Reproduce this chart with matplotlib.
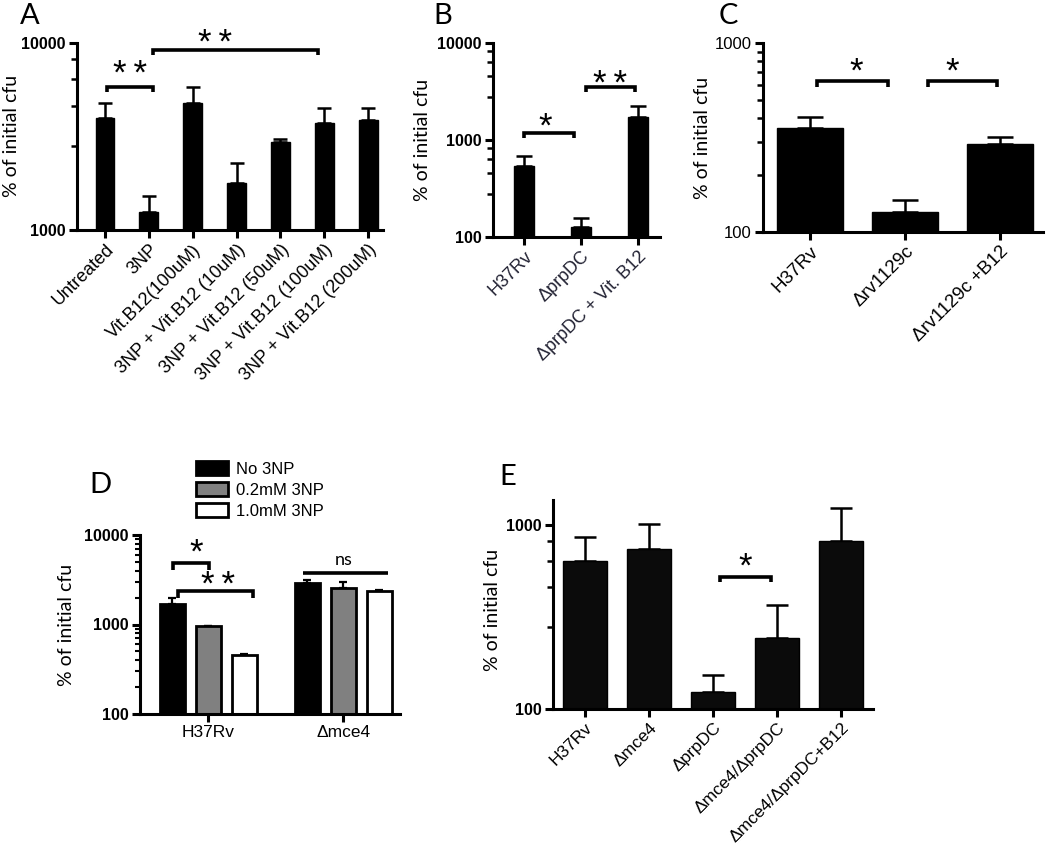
import matplotlib
matplotlib.use('Agg')
import matplotlib.pyplot as plt
import matplotlib.transforms as mtrans
import numpy as np
from matplotlib.patches import Patch
from matplotlib.ticker import FixedLocator, NullFormatter, LogLocator

plt.rcParams['font.family'] = ['Liberation Sans', 'DejaVu Sans']

# ---------------- data ----------------
a_labels = ['Untreated', '3NP', 'Vit.B12(100uM)', '3NP + Vit.B12 (10uM)',
            '3NP + Vit.B12 (50uM)', '3NP + Vit.B12 (100uM)', '3NP + Vit.B12 (200uM)']
a_means = [3970, 1250, 4780, 1780, 2950, 3730, 3880]
a_err = [810, 270, 1040, 500, 118, 760, 610]

b_labels = ['H37Rv', '\u0394prpDC', '\u0394prpDC + Vit. B12']
b_means = [540, 127, 1730]
b_err = [145, 30, 510]

c_labels = ['H37Rv', '\u0394rv1129c', '\u0394rv1129c +B12']
c_means = [355, 128, 292]
c_err = [51, 20, 25]

d_groups = ['H37Rv', '\u0394mce4']
d_series = ['No 3NP', '0.2mM 3NP', '1.0mM 3NP']
d_no3np = [1680, 2930]
d_02mm = [950, 2590]
d_10mm = [452, 2340]
d_no3np_err = [290, 230]
d_02mm_err = [20, 420]
d_10mm_err = [20, 60]

e_labels = ['H37Rv', '\u0394mce4', '\u0394prpDC', '\u0394mce4/\u0394prpDC', '\u0394mce4/\u0394prpDC+B12']
e_means = [637, 741, 124, 243, 818]
e_err = [224, 271, 29, 124, 419]

# ---------------- layout helpers ----------------
W, H = 1050, 849
fig = plt.figure(figsize=(W / 100, H / 100), dpi=100)

CAL = ['Lato', 'DejaVu Sans']
BOX = {}


def make_ax(l, r, t, b):
    ax = fig.add_axes([l / W, 1 - b / H, (r - l) / W, (b - t) / H])
    BOX[ax] = (t, b)
    for s in ['top', 'right']:
        ax.spines[s].set_visible(False)
    for s in ['left', 'bottom']:
        ax.spines[s].set_linewidth(2.2)
    ax.set_yscale('log')
    ax.tick_params(axis='both', which='major', direction='out', length=6, width=2.2, color='k', pad=2)
    ax.tick_params(axis='y', which='minor', direction='out', length=4, width=1.8)
    ax.tick_params(axis='x', which='minor', length=0)
    return ax


def yfrac(ax, ypix):
    t, b = BOX[ax]
    return (b - ypix) / (b - t)


def set_yticks(ax, majors, minors=None, bold=True, fs=11.5):
    ax.yaxis.set_major_locator(FixedLocator(majors))
    ax.set_yticklabels([str(m) for m in majors], fontsize=fs,
                       fontweight='bold' if bold else 'normal')
    if minors is None:
        ax.yaxis.set_minor_locator(LogLocator(base=10, subs=np.arange(2, 10)))
    else:
        ax.yaxis.set_minor_locator(FixedLocator(minors))
    ax.yaxis.set_minor_formatter(NullFormatter())


def bracket(ax, x1, x2, ypix, drop=5, lw=2.6, ends=True):
    tr = ax.get_xaxis_transform()
    yf = yfrac(ax, ypix)
    yd = yfrac(ax, ypix + drop)
    if ends:
        xs, ys = [x1, x1, x2, x2], [yd, yf, yf, yd]
    else:
        xs, ys = [x1, x2], [yf, yf]
    ax.plot(xs, ys, transform=tr, color='k', lw=lw, clip_on=False,
            solid_capstyle='butt', solid_joinstyle='miter')


def stars(ax, x, ypix, s, fs=25):
    tr = mtrans.offset_copy(ax.get_xaxis_transform(), fig=fig, x=0, y=-0.16 * fs, units='points')
    ax.text(x, yfrac(ax, ypix), s, transform=tr, ha='center', va='center', fontsize=fs, clip_on=False)


def ylab(xpix, ypix):
    fig.text(xpix / W, 1 - ypix / H, '% of initial cfu', rotation=90, ha='center', va='center',
             fontsize=14, family=CAL)


def letter(xpix, ypix, s):
    fig.text(xpix / W, 1 - ypix / H, s, ha='center', va='center', fontsize=21, family=CAL)


def upper_err(ax, x, means, errs, cap, lw=1.8):
    ax.errorbar(x, means, yerr=[np.zeros(len(errs)), errs], fmt='none', ecolor='k',
                elinewidth=lw, capsize=cap, capthick=lw, zorder=1)


def xlabels(ax, labels, fs, color='k'):
    ax.set_xticklabels(labels, rotation=45, ha='right', va='top', rotation_mode='anchor',
                       fontsize=fs, color=color)


lin_minor = [2.8, 4.6, 6.4, 8.2]
SS = '*\u2009*'

# ---------------- Panel A ----------------
axA = make_ax(77, 383, 43, 230)
xa = np.arange(len(a_labels))
upper_err(axA, xa, a_means, a_err, cap=5)
axA.bar(xa, a_means, width=0.43, color='k', edgecolor='k', zorder=2)
axA.set_ylim(1000, 10000)
axA.set_xlim(-0.64, 6.34)
set_yticks(axA, [1000, 10000], [m * 1000 for m in lin_minor])
axA.set_xticks(xa)
xlabels(axA, a_labels, 13)
bracket(axA, 0.05, 1.1, 87)
stars(axA, 0.57, 69, SS)
bracket(axA, 1.1, 4.85, 50)
stars(axA, 2.5, 38, SS)
ylab(12, 136)
letter(30, 16, 'A')

# ---------------- Panel B ----------------
axB = make_ax(493, 660, 43, 237)
xb = np.arange(len(b_labels))
upper_err(axB, xb, b_means, b_err, cap=6)
axB.bar(xb, b_means, width=0.35, color='k', edgecolor='k', zorder=2)
axB.set_ylim(100, 10000)
axB.set_xlim(-0.54, 2.39)
set_yticks(axB, [100, 1000, 10000], [m * 100 for m in lin_minor] + [m * 1000 for m in lin_minor])
axB.set_xticks(xb)
xlabels(axB, b_labels, 13, color='#222233')
bracket(axB, 0.0, 0.88, 133)
stars(axB, 0.37, 122, '*')
bracket(axB, 1.09, 1.96, 87)
stars(axB, 1.51, 79, SS)
ylab(423, 140)
letter(443, 16, 'B')

# ---------------- Panel C ----------------
axC = make_ax(763, 1043, 43, 232)
xc = np.arange(len(c_labels))
upper_err(axC, xc, c_means, c_err, cap=9.5)
axC.bar(xc, c_means, width=0.69, color='k', edgecolor='k', zorder=2)
axC.set_ylim(100, 1000)
axC.set_xlim(-0.49, 2.45)
set_yticks(axC, [100, 1000], None, bold=False, fs=12)
axC.set_xticks(xc)
xlabels(axC, c_labels, 13.5)
bracket(axC, 0.08, 0.82, 81, drop=6)
stars(axC, 0.49, 67, '*')
bracket(axC, 1.24, 1.97, 81, drop=6)
stars(axC, 1.5, 67, '*')
ylab(703, 138)
letter(728, 16, 'C')

# ---------------- Panel D ----------------
axD = make_ax(140, 400, 535, 714)
xd = np.arange(len(d_groups))
off = 0.267
bw = 0.185
d_vals = [d_no3np, d_02mm, d_10mm]
d_errs = [d_no3np_err, d_02mm_err, d_10mm_err]
d_cols = ['k', '#808080', 'white']
for i in range(3):
    xx = xd + (i - 1) * off
    upper_err(axD, xx, d_vals[i], d_errs[i], cap=3, lw=1.6)
    axD.bar(xx, d_vals[i], width=bw, color=d_cols[i], edgecolor='k', linewidth=2, zorder=2,
            label=d_series[i])
axD.set_ylim(100, 10000)
axD.set_xlim(-0.504, 1.42)
set_yticks(axD, [100, 1000, 10000], None)
axD.tick_params(axis='y', which='minor', length=3.5, width=1.5)
axD.set_xticks(xd)
axD.set_xticklabels(d_groups, fontsize=12.5)
bracket(axD, -0.26, 0.01, 563, drop=7)
stars(axD, -0.09, 548, '*')
bracket(axD, -0.22, 0.33, 591, drop=7)
stars(axD, 0.07, 580, SS)
bracket(axD, 0.70, 1.33, 573, ends=False)
axD.text(1.0, yfrac(axD, 560), 'ns', transform=axD.get_xaxis_transform(), ha='center', va='center',
         fontsize=13, family=CAL)
handles = [Patch(facecolor=c, edgecolor='k', linewidth=2) for c in d_cols]
fig.legend(handles, d_series, loc='upper left', bbox_to_anchor=(196 / W, 1 - 461 / H),
           frameon=False, fontsize=12, handlelength=1.9, handleheight=0.95,
           handletextpad=0.5, labelspacing=0.3, borderaxespad=0, borderpad=0)
ylab(67, 625)
letter(100, 485, 'D')

# ---------------- Panel E ----------------
axE = make_ax(553, 873, 500, 709)
xe = np.arange(len(e_labels))
upper_err(axE, xe, e_means, e_err, cap=8)
axE.bar(xe, e_means, width=0.69, color='#0b0b0b', edgecolor='k', zorder=2)
axE.set_ylim(100, 1370)
axE.set_xlim(-0.5, 4.5)
set_yticks(axE, [100, 1000], [m * 100 for m in lin_minor])
axE.set_xticks(xe)
xlabels(axE, e_labels, 12.5)
bracket(axE, 2.11, 2.9, 577)
stars(axE, 2.5, 562, '*')
ylab(493, 610)
letter(508, 477, 'E')

fig.savefig('out.png', dpi=100)
